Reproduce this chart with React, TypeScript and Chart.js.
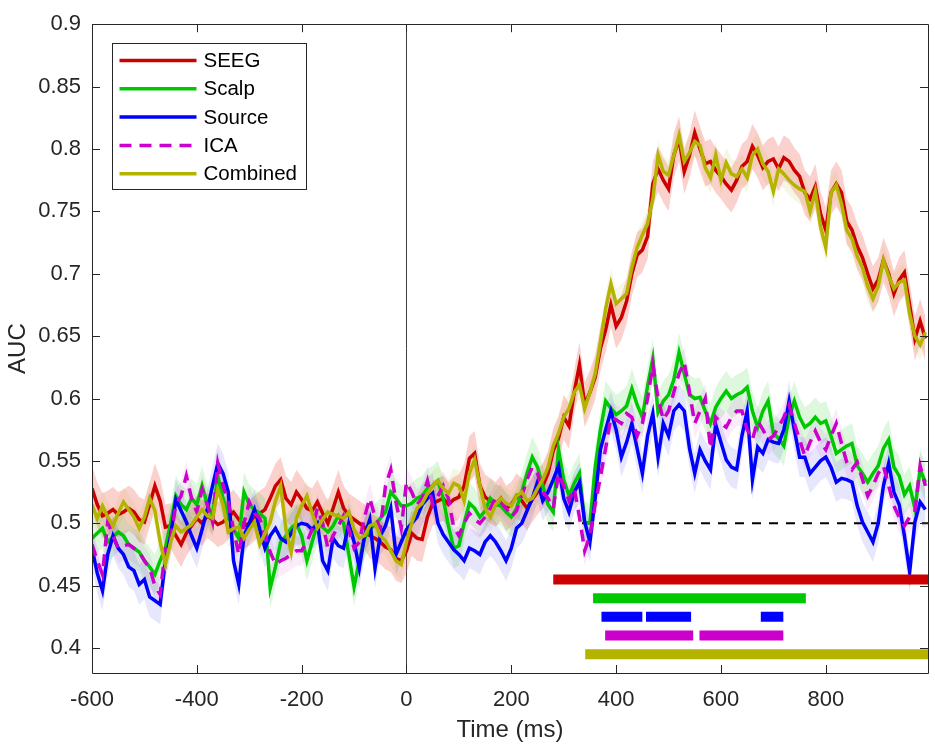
import { useEffect, useRef } from "react"
import { Chart, registerables } from "chart.js"

Chart.register(...registerables)

// sample times, 10 ms apart
const timeMs = Array.from({ length: 160 }, (_, i) => -600 + i * 10)

const seeg = [
  0.528, 0.515, 0.506, 0.508, 0.511, 0.507, 0.509, 0.512, 0.509, 0.503,
  0.501, 0.515, 0.530, 0.518, 0.497, 0.498, 0.490, 0.483, 0.492, 0.498,
  0.504, 0.500, 0.506, 0.503, 0.499, 0.501, 0.505, 0.509, 0.503, 0.498,
  0.500, 0.504, 0.508, 0.511, 0.520, 0.530, 0.535, 0.520, 0.515, 0.525,
  0.519, 0.512, 0.510, 0.517, 0.508, 0.500, 0.512, 0.525, 0.512, 0.506,
  0.503, 0.500, 0.497, 0.490, 0.488, 0.485, 0.481, 0.479, 0.472, 0.470,
  0.478, 0.492, 0.488, 0.487, 0.505, 0.516, 0.518, 0.520, 0.515, 0.519,
  0.521, 0.530, 0.552, 0.556, 0.530, 0.521, 0.518, 0.515, 0.520, 0.512,
  0.515, 0.522, 0.518, 0.512, 0.519, 0.525, 0.530, 0.540, 0.558, 0.568,
  0.585, 0.578, 0.605, 0.627, 0.595, 0.605, 0.617, 0.640, 0.655, 0.675,
  0.658, 0.665, 0.678, 0.700, 0.715, 0.719, 0.730, 0.772, 0.784, 0.775,
  0.768, 0.795, 0.808, 0.782, 0.795, 0.813, 0.800, 0.788, 0.790, 0.783,
  0.778, 0.772, 0.767, 0.775, 0.786, 0.790, 0.802, 0.795, 0.785, 0.790,
  0.792, 0.784, 0.793, 0.790, 0.783, 0.778, 0.765, 0.760, 0.770, 0.748,
  0.735, 0.765, 0.772, 0.765, 0.742, 0.735, 0.722, 0.713, 0.700, 0.688,
  0.695, 0.711, 0.700, 0.684, 0.695, 0.701, 0.675, 0.648, 0.662, 0.648,
]

const scalp = [
  0.488, 0.492, 0.496, 0.485, 0.489, 0.493, 0.490, 0.483, 0.480, 0.477,
  0.470, 0.465, 0.459, 0.470, 0.480, 0.500, 0.522, 0.515, 0.511, 0.520,
  0.515, 0.530, 0.515, 0.506, 0.538, 0.520, 0.506, 0.495, 0.488, 0.525,
  0.515, 0.511, 0.508, 0.504, 0.448, 0.465, 0.485, 0.490, 0.496, 0.500,
  0.490, 0.470, 0.485, 0.500, 0.497, 0.493, 0.498, 0.506, 0.500, 0.475,
  0.449, 0.470, 0.488, 0.495, 0.499, 0.504, 0.509, 0.525, 0.520, 0.514,
  0.514, 0.516, 0.520, 0.522, 0.528, 0.530, 0.534, 0.520, 0.498, 0.480,
  0.482, 0.500, 0.516, 0.512, 0.505, 0.510, 0.520, 0.515, 0.514, 0.509,
  0.505, 0.512, 0.525, 0.540, 0.553, 0.545, 0.530, 0.515, 0.509, 0.559,
  0.535, 0.522, 0.532, 0.540, 0.501, 0.500, 0.545, 0.575, 0.598, 0.592,
  0.587, 0.590, 0.594, 0.608, 0.595, 0.585, 0.610, 0.632, 0.589, 0.598,
  0.603, 0.615, 0.637, 0.620, 0.603, 0.600, 0.601, 0.590, 0.580, 0.593,
  0.600, 0.606, 0.600, 0.603, 0.605, 0.609, 0.590, 0.577, 0.590, 0.598,
  0.572, 0.568, 0.562, 0.585, 0.598, 0.585, 0.577, 0.580, 0.585, 0.580,
  0.582, 0.570, 0.556, 0.559, 0.562, 0.564, 0.546, 0.540, 0.533, 0.540,
  0.546, 0.560, 0.567, 0.545, 0.538, 0.523, 0.530, 0.512, 0.543, 0.533,
]

const source = [
  0.480, 0.460, 0.446, 0.475, 0.490, 0.480, 0.475, 0.465, 0.462, 0.451,
  0.455, 0.441, 0.438, 0.435, 0.470, 0.490, 0.519, 0.510, 0.501, 0.490,
  0.480, 0.495, 0.511, 0.530, 0.548, 0.540, 0.525, 0.470, 0.451, 0.490,
  0.500, 0.511, 0.495, 0.480, 0.490, 0.496, 0.488, 0.485, 0.492, 0.498,
  0.500, 0.499, 0.495, 0.500, 0.470, 0.462, 0.488, 0.482, 0.480, 0.500,
  0.485, 0.464, 0.490, 0.503, 0.464, 0.490, 0.498, 0.512, 0.475, 0.485,
  0.495, 0.500, 0.505, 0.515, 0.520, 0.524, 0.500, 0.491, 0.485, 0.479,
  0.475, 0.470, 0.480, 0.478, 0.475, 0.485, 0.490, 0.485, 0.478, 0.470,
  0.480, 0.496, 0.500, 0.510, 0.520, 0.533, 0.518, 0.525, 0.535, 0.546,
  0.520, 0.509, 0.525, 0.533, 0.501, 0.485, 0.520, 0.559, 0.575, 0.590,
  0.575, 0.553, 0.565, 0.580, 0.560, 0.540, 0.570, 0.588, 0.553, 0.580,
  0.570, 0.590, 0.595, 0.590, 0.560, 0.540, 0.559, 0.550, 0.543, 0.579,
  0.565, 0.551, 0.545, 0.543, 0.570, 0.590, 0.535, 0.561, 0.556, 0.567,
  0.565, 0.564, 0.575, 0.598, 0.575, 0.553, 0.553, 0.540, 0.545, 0.550,
  0.553, 0.545, 0.533, 0.536, 0.535, 0.533, 0.514, 0.501, 0.493, 0.485,
  0.500, 0.530, 0.548, 0.525, 0.515, 0.490, 0.461, 0.501, 0.517, 0.511,
]

const ica = [
  0.483, 0.470, 0.459, 0.501, 0.490, 0.480, 0.482, 0.483, 0.480, 0.477,
  0.470, 0.464, 0.450, 0.443, 0.480, 0.488, 0.515, 0.522, 0.538, 0.520,
  0.509, 0.527, 0.515, 0.501, 0.548, 0.530, 0.517, 0.495, 0.475, 0.500,
  0.517, 0.508, 0.504, 0.490, 0.477, 0.467, 0.470, 0.472, 0.475, 0.478,
  0.478, 0.485, 0.495, 0.512, 0.500, 0.480, 0.490, 0.498, 0.506, 0.495,
  0.480, 0.485, 0.505, 0.520, 0.505, 0.496, 0.530, 0.543, 0.517, 0.496,
  0.533, 0.525, 0.515, 0.520, 0.534, 0.515, 0.522, 0.530, 0.520, 0.497,
  0.490, 0.500, 0.508, 0.503, 0.500, 0.505, 0.512, 0.520, 0.517, 0.512,
  0.505, 0.510, 0.522, 0.535, 0.545, 0.540, 0.525, 0.520, 0.512, 0.540,
  0.530, 0.518, 0.528, 0.505, 0.478, 0.490, 0.515, 0.537, 0.560, 0.585,
  0.583, 0.580, 0.588, 0.585, 0.570, 0.580, 0.600, 0.627, 0.600, 0.583,
  0.590, 0.605, 0.620, 0.629, 0.605, 0.580, 0.590, 0.600, 0.560, 0.585,
  0.580, 0.577, 0.585, 0.590, 0.590, 0.575, 0.567, 0.582, 0.575, 0.567,
  0.570, 0.577, 0.585, 0.595, 0.580, 0.567, 0.554, 0.565, 0.574, 0.565,
  0.559, 0.570, 0.580, 0.564, 0.549, 0.543, 0.549, 0.535, 0.522, 0.530,
  0.540, 0.546, 0.530, 0.514, 0.505, 0.498, 0.505, 0.509, 0.546, 0.530,
]

const combined = [
  0.515, 0.504, 0.514, 0.505, 0.498, 0.508, 0.517, 0.511, 0.505, 0.496,
  0.505, 0.520, 0.510, 0.485, 0.467, 0.485, 0.498, 0.493, 0.496, 0.499,
  0.505, 0.511, 0.506, 0.504, 0.527, 0.515, 0.493, 0.496, 0.497, 0.488,
  0.495, 0.501, 0.483, 0.492, 0.501, 0.518, 0.530, 0.495, 0.477, 0.504,
  0.514, 0.522, 0.508, 0.496, 0.503, 0.509, 0.507, 0.506, 0.504, 0.509,
  0.495, 0.488, 0.490, 0.498, 0.500, 0.490, 0.486, 0.478, 0.470, 0.467,
  0.485, 0.500, 0.512, 0.516, 0.524, 0.530, 0.534, 0.528, 0.524, 0.532,
  0.530, 0.518, 0.540, 0.551, 0.530, 0.512, 0.505, 0.515, 0.520, 0.516,
  0.514, 0.522, 0.525, 0.518, 0.520, 0.528, 0.535, 0.545, 0.562, 0.572,
  0.585, 0.592, 0.605, 0.611, 0.592, 0.605, 0.620, 0.645, 0.672, 0.692,
  0.676, 0.680, 0.684, 0.705, 0.721, 0.731, 0.740, 0.760, 0.795, 0.782,
  0.779, 0.795, 0.811, 0.790, 0.797, 0.806, 0.803, 0.785, 0.777, 0.795,
  0.775, 0.789, 0.780, 0.778, 0.784, 0.777, 0.795, 0.800, 0.788, 0.782,
  0.766, 0.784, 0.780, 0.775, 0.771, 0.768, 0.766, 0.750, 0.766, 0.738,
  0.721, 0.765, 0.771, 0.756, 0.735, 0.728, 0.714, 0.705, 0.690, 0.680,
  0.690, 0.711, 0.698, 0.688, 0.693, 0.695, 0.668, 0.650, 0.643, 0.653,
]

const seriesNames = ["SEEG", "Scalp", "Source", "ICA", "Combined"]
const seriesValues = [seeg, scalp, source, ica, combined]
// half width of the shaded error band, AUC units
const bandHalfWidth = [0.018, 0.016, 0.016, 0.012, 0.012]

// significant clusters (ms) per series, and the AUC level each bar sits at
const sigSegments = [
  [[280, 995]],
  [[356, 762]],
  [[372, 450], [457, 543], [676, 719]],
  [[379, 547], [559, 719]],
  [[341, 995]],
]
const sigLevels = [0.455, 0.44, 0.425, 0.41, 0.395]

const chanceLevel = 0.5
const chanceFromMs = 270

const xMin = -600
const xMax = 995
const yMin = 0.38
const yMax = 0.9
const xTicks = [-600, -400, -200, 0, 200, 400, 600, 800]
const yTicks = [0.4, 0.45, 0.5, 0.55, 0.6, 0.65, 0.7, 0.75, 0.8, 0.85, 0.9]

const lineColors = ["#cc0000", "#00c800", "#0000ff", "#cc00cc", "#b3b300"]
const bandColors = [
  "rgba(240, 90, 80, 0.28)",
  "rgba(0, 200, 0, 0.13)",
  "rgba(60, 60, 230, 0.13)",
  "rgba(200, 0, 200, 0.08)",
  "rgba(170, 170, 0, 0.10)",
]

const FONT = "'Liberation Sans', Arial, Helvetica, sans-serif"
const AXIS = "#262626"

const axesPlugin = {
  id: "matlabAxes",
  beforeDatasetsDraw(chart: any) {
    const { ctx, chartArea, scales } = chart
    const x0 = scales.x.getPixelForValue(0)
    ctx.save()
    ctx.strokeStyle = "#404040"
    ctx.lineWidth = 1
    ctx.beginPath()
    ctx.moveTo(Math.round(x0) + 0.5, chartArea.top)
    ctx.lineTo(Math.round(x0) + 0.5, chartArea.bottom)
    ctx.stroke()
    ctx.restore()
  },
  afterDatasetsDraw(chart: any) {
    const { ctx, chartArea, scales } = chart
    const { left, right, top, bottom } = chartArea
    const tl = 8
    ctx.save()
    ctx.strokeStyle = AXIS
    ctx.lineWidth = 1
    ctx.beginPath()
    ctx.rect(Math.round(left) + 0.5, Math.round(top) + 0.5, Math.round(right - left), Math.round(bottom - top))
    for (const v of xTicks) {
      const px = Math.round(scales.x.getPixelForValue(v)) + 0.5
      ctx.moveTo(px, bottom)
      ctx.lineTo(px, bottom - tl)
      ctx.moveTo(px, top)
      ctx.lineTo(px, top + tl)
    }
    for (const v of yTicks) {
      const py = Math.round(scales.y.getPixelForValue(v)) + 0.5
      ctx.moveTo(left, py)
      ctx.lineTo(left + tl, py)
      ctx.moveTo(right, py)
      ctx.lineTo(right - tl, py)
    }
    ctx.stroke()
    ctx.restore()
  },
  afterDraw(chart: any) {
    const { ctx, chartArea } = chart
    const items = chart.data.datasets.filter((d: any) => d.isSeries)
    const bx = Math.round(chartArea.left + 20) + 0.5
    const by = Math.round(chartArea.top + 19) + 0.5
    const bw = 194
    const rowH = 28.3
    const bh = 146
    ctx.save()
    ctx.fillStyle = "#ffffff"
    ctx.strokeStyle = AXIS
    ctx.lineWidth = 1
    ctx.fillRect(bx, by, bw, bh)
    ctx.strokeRect(bx, by, bw, bh)
    ctx.font = `20.5px ${FONT}`
    ctx.textBaseline = "middle"
    items.forEach((d: any, k: number) => {
      const cy = by + 17 + k * rowH
      ctx.strokeStyle = d.borderColor
      ctx.lineWidth = 3.5
      ctx.setLineDash(d.borderDash || [])
      ctx.beginPath()
      ctx.moveTo(bx + 7, cy)
      ctx.lineTo(bx + 84, cy)
      ctx.stroke()
      ctx.setLineDash([])
      ctx.fillStyle = "#000000"
      ctx.fillText(d.label, bx + 91, cy + 1)
    })
    ctx.restore()
  },
}

function buildDatasets() {
  const datasets: any[] = []
  seriesValues.forEach((vals, i) => {
    datasets.push({
      data: timeMs.map((t, k) => ({ x: t, y: vals[k] + bandHalfWidth[i] })),
      borderWidth: 0,
      pointRadius: 0,
      fill: false,
      order: 30 - i,
    })
    datasets.push({
      data: timeMs.map((t, k) => ({ x: t, y: vals[k] - bandHalfWidth[i] })),
      borderWidth: 0,
      pointRadius: 0,
      fill: "-1",
      backgroundColor: bandColors[i],
      order: 30 - i,
    })
  })
  datasets.push({
    data: [
      { x: chanceFromMs, y: chanceLevel },
      { x: xMax, y: chanceLevel },
    ],
    borderColor: "#000000",
    borderWidth: 2,
    borderDash: [9, 8],
    pointRadius: 0,
    order: 10,
  })
  seriesValues.forEach((vals, i) => {
    datasets.push({
      label: seriesNames[i],
      isSeries: true,
      data: timeMs.map((t, k) => ({ x: t, y: vals[k] })),
      borderColor: lineColors[i],
      borderWidth: 3.5,
      borderDash: seriesNames[i] === "ICA" ? [12, 8] : undefined,
      pointRadius: 0,
      tension: 0,
      order: 6 - i,
    })
  })
  sigSegments.forEach((segs, i) => {
    datasets.push({
      data: segs.flatMap(([a, b]) => [
        { x: a, y: sigLevels[i] },
        { x: b, y: sigLevels[i] },
        { x: b, y: null },
      ]),
      borderColor: lineColors[i],
      borderWidth: 10,
      borderCapStyle: "butt",
      pointRadius: 0,
      spanGaps: false,
      order: 0,
    })
  })
  return datasets
}

function AucChart() {
  const chartRef = useRef<HTMLCanvasElement>(null)
  const chartInstance = useRef<Chart | null>(null)

  useEffect(() => {
    if (!chartRef.current) return
    if (chartInstance.current) chartInstance.current.destroy()

    Chart.defaults.font.family = FONT

    chartInstance.current = new Chart(chartRef.current, {
      type: "line",
      data: { datasets: buildDatasets() },
      options: {
        animation: false,
        responsive: true,
        maintainAspectRatio: false,
        layout: { padding: { left: 0, right: 7, top: 13, bottom: 0 } },
        plugins: { legend: { display: false }, tooltip: { enabled: false } },
        scales: {
          x: {
            type: "linear",
            min: xMin,
            max: xMax,
            afterBuildTicks: (s: any) => {
              s.ticks = xTicks.map((v) => ({ value: v }))
            },
            afterFit: (s: any) => {
              s.height = 78
            },
            grid: { display: false, drawTicks: false },
            border: { display: false },
            ticks: {
              color: AXIS,
              font: { size: 22 },
              padding: 14,
              maxRotation: 0,
              autoSkip: false,
              callback: (v: any) => String(v),
            },
            title: {
              display: true,
              text: "Time (ms)",
              color: AXIS,
              font: { size: 24 },
              padding: { top: 0, bottom: 6 },
            },
          },
          y: {
            type: "linear",
            min: yMin,
            max: yMax,
            afterBuildTicks: (s: any) => {
              s.ticks = yTicks.map((v) => ({ value: v }))
            },
            afterFit: (s: any) => {
              s.width = 92
            },
            grid: { display: false, drawTicks: false },
            border: { display: false },
            ticks: {
              color: AXIS,
              font: { size: 22 },
              padding: 11,
              autoSkip: false,
              callback: (v: any) => String(Number(Number(v).toFixed(2))),
            },
            title: {
              display: true,
              text: "AUC",
              color: AXIS,
              font: { size: 24 },
              padding: { top: 4, bottom: 0 },
            },
          },
        },
      },
      plugins: [axesPlugin],
    })

    return () => {
      if (chartInstance.current) {
        chartInstance.current.destroy()
        chartInstance.current = null
      }
    }
  }, [])

  return <canvas ref={chartRef} />
}

export default function App() {
  return (
    <div style={{ position: "absolute", left: 0, top: 0, width: 935, height: 751, background: "#fff" }}>
      <AucChart />
    </div>
  )
}
